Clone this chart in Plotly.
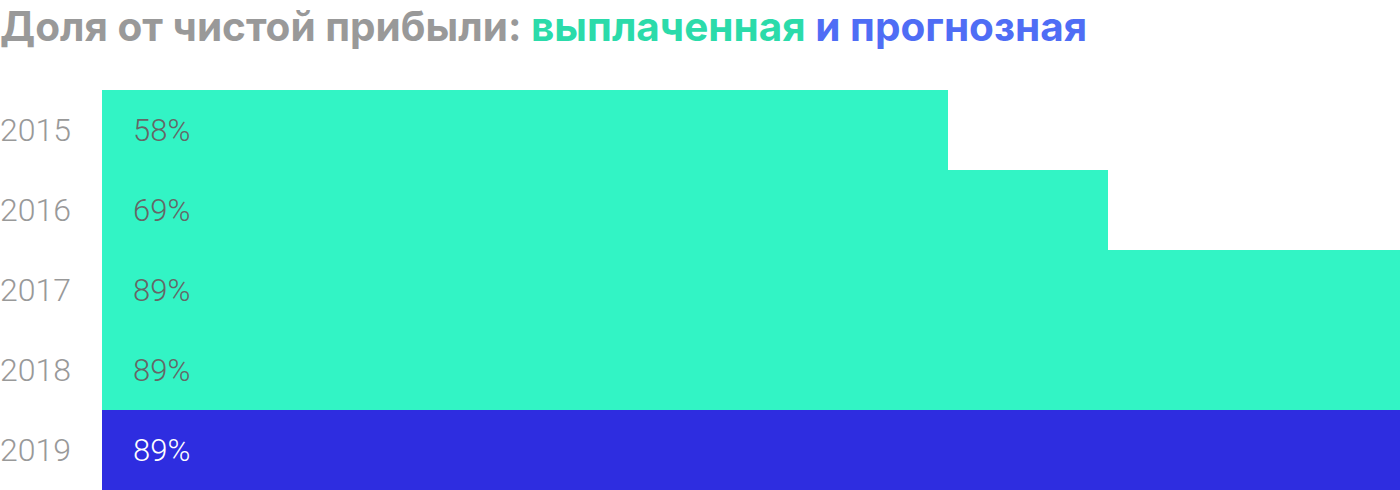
import plotly.graph_objects as go

# Данные: доля дивидендов от чистой прибыли, %
years = ['2015', '2016', '2017', '2018', '2019']
share = [58, 69, 89, 89, 89]
forecast = [False, False, False, False, True]

PAID_COLOR = '#32F4C5'
FORECAST_COLOR = '#2E2DE0'

bar_colors = [FORECAST_COLOR if f else PAID_COLOR for f in forecast]
text_colors = ['#FFFFFF' if f else '#666666' for f in forecast]

fig = go.Figure(go.Bar(
    x=share,
    y=years,
    orientation='h',
    marker=dict(color=bar_colors, line=dict(width=0)),
    hoverinfo='skip',
))

# Подписи значений внутри полос, у левого края
# (y задаётся индексом категории, иначе '2015' читается как число)
annotations = [
    dict(
        x=0, y=i, xref='x', yref='y',
        text=f'{val}%', showarrow=False,
        xanchor='left', xshift=29,
        font=dict(family='Roboto', size=31, color=tc, weight=300),
    )
    for i, (val, tc) in enumerate(zip(share, text_colors))
]

title_text = (
    "<span style='color:#999999'>Доля от чистой прибыли: </span>"
    "<span style='color:#2BDBAA'>выплаченная</span> "
    "<span style='color:#4F6DF5'>и прогнозная</span>"
)

fig.update_layout(
    width=1400,
    height=490,
    margin=dict(l=102, r=0, t=90, b=0),
    paper_bgcolor='white',
    plot_bgcolor='white',
    bargap=0,
    showlegend=False,
    title=dict(
        text=f'<b>{title_text}</b>',
        x=0, xref='container', xanchor='left',
        y=1 - 27 / 490, yanchor='middle',
        font=dict(family='Inter', size=40.5),
        pad=dict(l=0),
    ),
    xaxis=dict(
        range=[0, 89], visible=False, fixedrange=True,
    ),
    yaxis=dict(
        type='category',
        categoryorder='array', categoryarray=years,
        range=[len(years) - 0.5, -0.5],
        showgrid=False, zeroline=False, showline=False,
        ticks='', ticklabelstandoff=30,
        tickfont=dict(family='Roboto', size=32, color='#999999', weight=300),
        fixedrange=True,
    ),
    annotations=annotations,
)

# убираем стандартный отступ body, чтобы график встал в угол окна
fig.write_html(
    'out.html',
    config={'displayModeBar': False},
    post_script="document.body.style.margin='0';",
)
